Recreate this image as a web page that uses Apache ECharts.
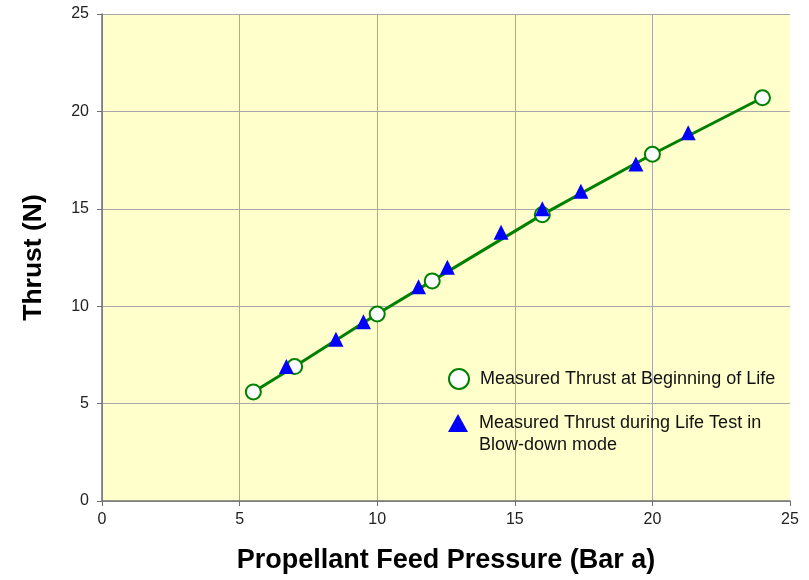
<!DOCTYPE html>
<html>
<head>
<meta charset="utf-8">
<script src="https://cdn.jsdelivr.net/npm/echarts@6/dist/echarts.min.js"></script>
<style>
  html, body { margin: 0; padding: 0; background: #fff; }
  #root { width: 809px; height: 580px; }
</style>
</head>
<body>
<div id="root"></div>
<script>
// beginning of life measurements (pressure bar a, thrust N)
const bolPressure = [5.5, 7.0, 10.0, 12.0, 16.0, 20.0, 24.0];
const bolThrust = [5.6, 6.9, 9.6, 11.3, 14.7, 17.8, 20.7];

// life test, blow-down mode
const lifePressure = [6.7, 8.5, 9.5, 11.5, 12.55, 14.5, 16.0, 17.4, 19.4, 21.3];
const lifeThrust = [6.9, 8.3, 9.2, 11.0, 12.0, 13.8, 15.0, 15.9, 17.3, 18.9];

const bolName = "Measured Thrust at Beginning of Life";
const lifeName = "Measured Thrust during Life Test in\nBlow-down mode";

const chartDom = document.getElementById("root");
const myChart = echarts.init(chartDom);

const pair = (xs, ys) => xs.map((x, i) => [x, ys[i]]);

const legendText = {
  fontFamily: "Liberation Sans, Arial, sans-serif",
  fontSize: 18,
  color: "#111",
  lineHeight: 22,
  padding: [0, 0, 0, 6]
};

myChart.setOption({
  backgroundColor: "#ffffff",
  animation: false,
  textStyle: { fontFamily: "Liberation Sans, Arial, sans-serif" },
  grid: {
    left: 102,
    top: 14,
    right: 19,
    bottom: 79,
    show: true,
    backgroundColor: "#ffffcc",
    borderWidth: 0
  },
  legend: [
    {
      left: 443,
      top: 363,
      itemWidth: 20,
      itemHeight: 20,
      data: [{ name: bolName, icon: "emptyCircle" }],
      textStyle: legendText
    },
    {
      left: 443,
      top: 385,
      itemWidth: 20,
      itemHeight: 18,
      data: [{ name: lifeName, icon: "triangle" }],
      // leading blank line keeps the icon level with the first text line
      formatter: (name) => "\n" + name,
      textStyle: legendText
    }
  ],
  xAxis: {
    type: "value",
    min: 0,
    max: 25,
    interval: 5,
    name: "Propellant Feed Pressure (Bar a)",
    nameLocation: "middle",
    nameGap: 46,
    nameTextStyle: { fontSize: 27, fontWeight: "bold", color: "#000" },
    axisLine: { onZero: false, lineStyle: { color: "#707070", width: 1.5 } },
    axisTick: { show: true, length: 5, lineStyle: { color: "#707070" } },
    axisLabel: { fontSize: 16, color: "#222", margin: 11 },
    splitLine: {
      showMaxLine: false,
      lineStyle: { color: "#a8a8a8", width: 1 }
    }
  },
  yAxis: {
    type: "value",
    min: 0,
    max: 25,
    interval: 5,
    name: "Thrust (N)",
    nameLocation: "middle",
    nameGap: 55,
    nameTextStyle: { fontSize: 26.5, fontWeight: "bold", color: "#000" },
    axisLine: { show: true, onZero: false, lineStyle: { color: "#707070", width: 1.5 } },
    axisTick: { show: true, length: 5, lineStyle: { color: "#707070" } },
    axisLabel: { fontSize: 16, color: "#222", margin: 13 },
    splitLine: { lineStyle: { color: "#a8a8a8", width: 1 } }
  },
  series: [
    {
      name: bolName,
      type: "line",
      data: pair(bolPressure, bolThrust),
      symbol: "emptyCircle",
      symbolSize: 15,
      lineStyle: { color: "#008000", width: 3 },
      itemStyle: { color: "#008000", borderColor: "#008000", borderWidth: 3 },
      z: 2
    },
    {
      name: lifeName,
      type: "scatter",
      data: pair(lifePressure, lifeThrust),
      symbol: "triangle",
      symbolSize: 15,
      itemStyle: { color: "#0000ff", opacity: 1 },
      z: 3
    }
  ]
});
</script>
</body>
</html>
